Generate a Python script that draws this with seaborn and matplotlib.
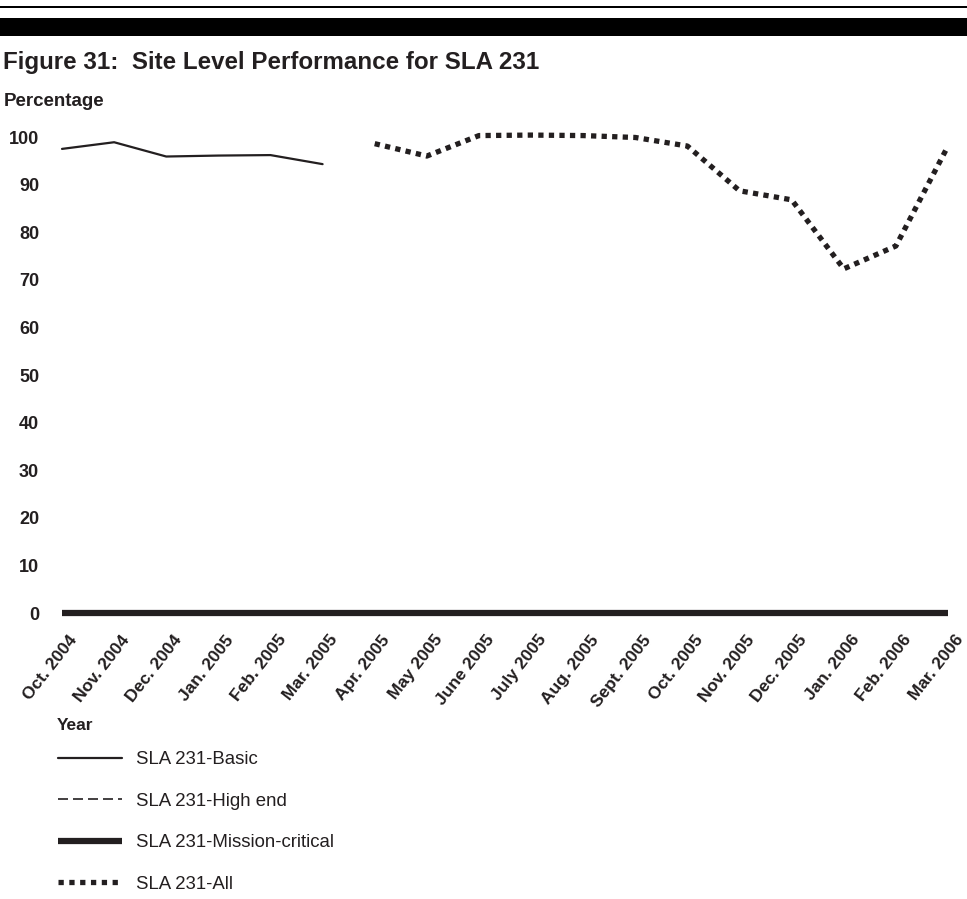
import numpy as np
import pandas as pd
import matplotlib.pyplot as plt
import matplotlib.transforms as mtransforms
from matplotlib.lines import Line2D
from matplotlib.patches import Rectangle
import seaborn as sns

# ---- data ----
months = ['Oct. 2004', 'Nov. 2004', 'Dec. 2004', 'Jan. 2005', 'Feb. 2005', 'Mar. 2005',
          'Apr. 2005', 'May 2005', 'June 2005', 'July 2005', 'Aug. 2005', 'Sept. 2005',
          'Oct. 2005', 'Nov. 2005', 'Dec. 2005', 'Jan. 2006', 'Feb. 2006', 'Mar. 2006']
basic_months = months[:6]
basic_vals = [97.5, 98.9, 95.9, 96.1, 96.2, 94.3]
high_end_months = []
high_end_vals = []
mission_months = months
mission_vals = [0] * 18
all_months = months[6:]
all_vals = [98.6, 96.0, 100.3, 100.4, 100.3, 99.9, 98.1, 88.7, 86.8, 72.3, 77.1, 98.1]
y_ticks = list(range(0, 101, 10))

INK = '#231f20'

sns.set_theme(style='white')
plt.rcParams['font.family'] = ['Liberation Sans', 'DejaVu Sans']

W, H = 967, 899
fig = plt.figure(figsize=(W / 100, H / 100), dpi=100)

# axes placed so that Oct 2004 -> x=62px, Mar 2006 -> x=948px, 0 -> y=613px, 100 -> y=137px
ymin, ymax = -3, 103
px_per_unit = (613 - 137) / 100
y_bot = 613 + (0 - ymin) * px_per_unit
y_top = 137 - (ymax - 100) * px_per_unit
ax = fig.add_axes([62 / W, 1 - y_bot / H, (948 - 62) / W, (y_bot - y_top) / H])

pos = {m: i for i, m in enumerate(months)}


def frame(ms, vals):
    return pd.DataFrame({'x': [pos[m] for m in ms], 'y': vals})


sns.lineplot(data=frame(basic_months, basic_vals), x='x', y='y', ax=ax,
             color=INK, linewidth=1.6)
sns.lineplot(data=frame(mission_months, mission_vals), x='x', y='y', ax=ax,
             color=INK, linewidth=4.5, solid_capstyle='butt')
sns.lineplot(data=frame(all_months, all_vals), x='x', y='y', ax=ax,
             color=INK, linewidth=3.8, dashes=False)
ax.lines[-1].set_dashes((1.0, 1.0))
ax.lines[-1].set_dash_capstyle('butt')
for ln in ax.lines:
    ln.set_clip_on(False)

ax.set_xlim(0, len(months) - 1)
ax.set_ylim(ymin, ymax)
ax.set_xlabel('')
ax.set_ylabel('')
for s in ax.spines.values():
    s.set_visible(False)
ax.set_facecolor('none')

ax.set_yticks(y_ticks)
ax.set_yticklabels([str(t) for t in y_ticks], fontsize=13, fontweight='bold', color=INK)
ax.tick_params(axis='y', length=0, pad=16.5)

ax.set_xticks(range(len(months)))
ax.set_xticklabels(months, rotation=52, ha='right', va='center', rotation_mode='anchor',
                   fontsize=12.5, fontweight='bold', color=INK)
ax.tick_params(axis='x', length=0, pad=2)
shift = mtransforms.ScaledTranslation(9 / 72, -5 / 72, fig.dpi_scale_trans)
for lbl in ax.get_xticklabels():
    lbl.set_transform(lbl.get_transform() + shift)

# header rules
fig.add_artist(Rectangle((0, 1 - 7.5 / H), 1, 2 / H, transform=fig.transFigure,
                         facecolor='black', edgecolor='none'))
fig.add_artist(Rectangle((0, 1 - 36 / H), 1, 18 / H, transform=fig.transFigure,
                         facecolor='black', edgecolor='none'))

fig.text(3 / W, 1 - 62 / H, 'Figure 31:  Site Level Performance for SLA 231',
         fontsize=17.4, fontweight='bold', color=INK, va='center', ha='left')
fig.text(4 / W, 1 - 101 / H, 'Percentage', fontsize=13.5, fontweight='bold',
         color=INK, va='center', ha='left')
fig.text(57 / W, 1 - 726 / H, 'Year', fontsize=12.5, fontweight='bold',
         color=INK, va='center', ha='left')

# legend
handles = [
    Line2D([], [], color=INK, linewidth=1.6),
    Line2D([], [], color=INK, linewidth=1.2, dashes=(6, 3)),
    Line2D([], [], color=INK, linewidth=4.5, solid_capstyle='butt'),
    Line2D([], [], color=INK, linewidth=3.8, dashes=(1.0, 1.05), dash_capstyle='butt'),
]
labels = ['SLA 231-Basic', 'SLA 231-High end', 'SLA 231-Mission-critical', 'SLA 231-All']
fig.legend(handles, labels, loc='upper left', bbox_to_anchor=(58 / W, 1 - 751 / H),
           frameon=False, fontsize=13.4, handlelength=3.44, handletextpad=0.75,
           labelspacing=1.32, borderpad=0, borderaxespad=0, labelcolor=INK)

fig.savefig('out.png', dpi=100)
